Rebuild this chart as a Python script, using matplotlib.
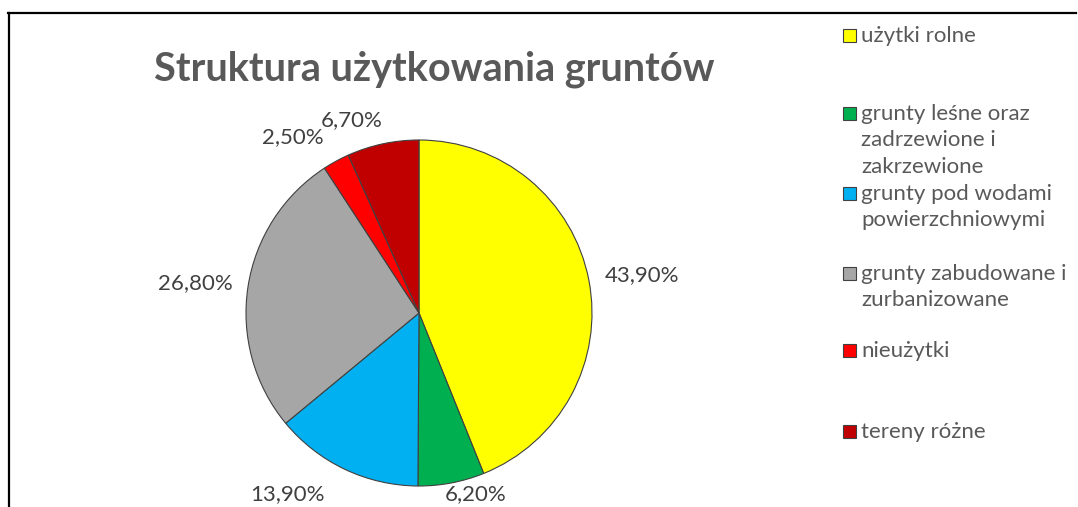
import matplotlib
matplotlib.use("Agg")
import matplotlib.pyplot as plt
from matplotlib.patches import Rectangle

# ---- data ----
categories = ["użytki rolne",
              "grunty leśne oraz\nzadrzewione i\nzakrzewione",
              "grunty pod wodami\npowierzchniowymi",
              "grunty zabudowane i\nzurbanizowane",
              "nieużytki",
              "tereny różne"]
values = [43.9, 6.2, 13.9, 26.8, 2.5, 6.7]
value_labels = ["43,90%", "6,20%", "13,90%", "26,80%", "2,50%", "6,70%"]
colors = ["#FFFF00", "#00B050", "#00B0F0", "#A6A6A6", "#FF0000", "#C00000"]
title = "Struktura użytkowania gruntów"

# ---- layout (pixel coordinates, y from top) ----
W, H = 1078, 507
pie_center = (419, 313)
pie_radius = 173
label_pos = [(642, 275), (476, 494), (287, 494), (195, 283), (293, 137), (352, 120)]
legend_y = [35, 113, 193, 273, 350, 431]
legend_sq_x = 843
legend_txt_x = 861
FONT = ["Lato", "DejaVu Sans"]

fig = plt.figure(figsize=(W / 100, H / 100), dpi=100)
ax = fig.add_axes([0, 0, 1, 1])

ax.pie(values, colors=colors, startangle=90, counterclock=False,
       center=(pie_center[0], H - pie_center[1]), radius=pie_radius,
       wedgeprops=dict(edgecolor="#404040", linewidth=0.8))
ax.set_xlim(0, W)
ax.set_ylim(0, H)
ax.set_aspect("auto")
ax.axis("off")

# value labels
for (x, y), lab in zip(label_pos, value_labels):
    ax.text(x, H - y, lab, ha="center", va="center", fontsize=16,
            color="#404040", family=FONT)

# title
ax.text(434, H - 69, title, ha="center", va="center", fontsize=28.5,
        fontweight="bold", color="#595959", family=FONT)

# legend
for y, cat, c in zip(legend_y, categories, colors):
    ax.add_patch(Rectangle((legend_sq_x, H - y - 6.5), 13, 13, facecolor=c,
                           edgecolor="#404040", linewidth=0.8))
    ax.text(legend_txt_x, H - y + 9, cat, ha="left", va="top", fontsize=16,
            color="#595959", family=FONT, linespacing=1.4)

# border lines
ax.plot([8.5, 8.5], [H - 12.5, 0], color="black", lw=1.6, clip_on=False)
ax.plot([8, 1076], [H - 12.5, H - 12.5], color="black", lw=1.6, clip_on=False)

fig.savefig("out.png", dpi=100)
